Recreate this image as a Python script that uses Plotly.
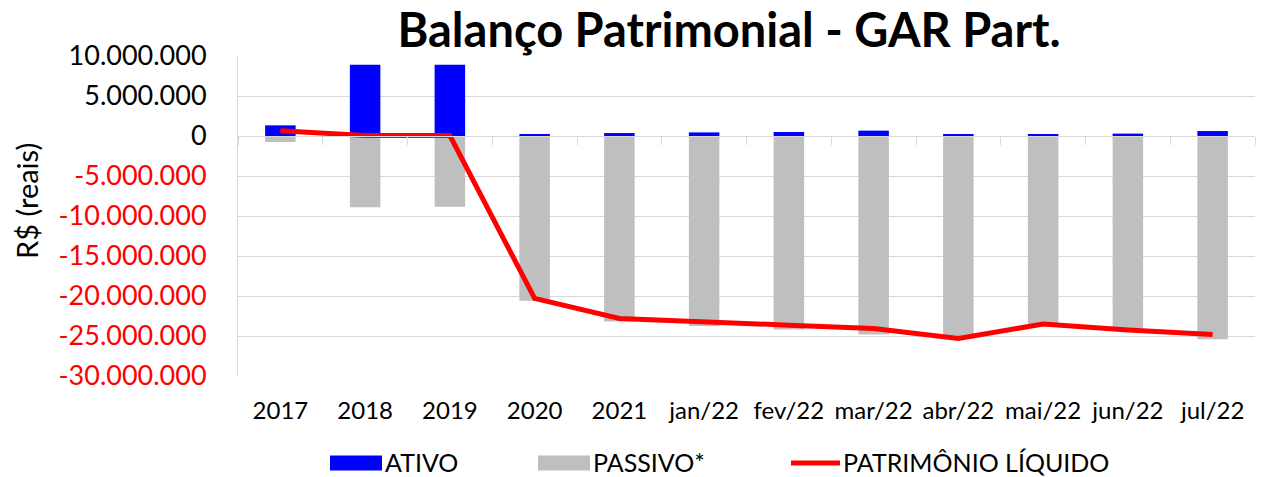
import plotly.graph_objects as go

categories = ["2017", "2018", "2019", "2020", "2021", "jan/22", "fev/22", "mar/22",
              "abr/22", "mai/22", "jun/22", "jul/22"]
ativo = [1330000, 8900000, 8900000, 200000, 370000, 450000, 500000, 670000,
         200000, 200000, 300000, 620000]
passivo = [-750000, -8920000, -8830000, -20580000, -23200000, -23750000, -24200000,
           -24800000, -25300000, -23700000, -24100000, -25400000]
patrimonio = [670000, 50000, 50000, -20300000, -22800000, -23300000, -23650000,
              -24050000, -25300000, -23500000, -24250000, -24800000]

y_tickvals = [10000000, 5000000, 0, -5000000, -10000000, -15000000, -20000000,
              -25000000, -30000000]
y_ticktext = ["10.000.000", "5.000.000", "0", "-5.000.000", "-10.000.000",
              "-15.000.000", "-20.000.000", "-25.000.000", "-30.000.000"]

FONT = "Lato"
GRID = "#d9d9d9"
BLUE = "#0000ff"
GREY = "#bfbfbf"
RED = "#ff0000"

# page body has an 8px default margin: figure placed at (8, 8)
OFF = 8
W, H = 1264 - OFF, 477 - OFF
L, T = 238 - OFF, 56 - OFF
R = W - (1255 - OFF)
B = H - (376 - OFF)
PW, PH = W - L - R, H - T - B


def px(x):
    return (x - OFF - L) / PW


def py(y):
    return (H - B - (y - OFF)) / PH


ticktext_colored = [
    (f"<span style='color:{RED}'>{t}</span>" if v < 0 else t)
    for v, t in zip(y_tickvals, y_ticktext)
]

fig = go.Figure()
fig.add_trace(go.Bar(x=categories, y=ativo, name="ATIVO", marker_color=BLUE,
                     marker_line_width=0, width=0.36))
fig.add_trace(go.Bar(x=categories, y=passivo, name="PASSIVO*", marker_color=GREY,
                     marker_line_width=0, width=0.36))
fig.add_trace(go.Scatter(x=categories, y=patrimonio, name="PATRIMÔNIO LÍQUIDO",
                         mode="lines", line=dict(color=RED, width=5)))
# helper axis for the category axis line at zero
fig.add_trace(go.Scatter(x=[0], y=[0], xaxis="x2", mode="markers", opacity=0,
                         showlegend=False, hoverinfo="skip"))

n = len(categories)

# legend drawn manually (wide Excel-style swatches)
legend_items = [
    ("rect", BLUE, 330, 382, "ATIVO"),
    ("rect", GREY, 538, 590, "PASSIVO*"),
    ("line", RED, 791, 840, "PATRIMÔNIO LÍQUIDO"),
]
shapes = []
annotations = []
ly = 463
for kind, color, x0, x1, label in legend_items:
    if kind == "rect":
        shapes.append(dict(type="rect", xref="paper", yref="paper",
                           x0=px(x0), x1=px(x1), y0=py(ly + 7.5), y1=py(ly - 7.5),
                           fillcolor=color, line=dict(width=0)))
    else:
        shapes.append(dict(type="line", xref="paper", yref="paper",
                           x0=px(x0), x1=px(x1), y0=py(ly), y1=py(ly),
                           line=dict(color=color, width=5)))
    annotations.append(dict(text=label, xref="paper", yref="paper", x=px(x1 + 2),
                            y=py(ly - 1.5), xanchor="left", yanchor="middle",
                            showarrow=False, borderpad=0,
                            font=dict(size=25, family=FONT, color="black")))

# y-axis title (placed like the original, slightly above plot centre)
annotations.append(dict(text="R$ (reais)", xref="paper", yref="paper", x=px(26), y=py(201),
                        xanchor="center", yanchor="middle", textangle=-90, showarrow=False,
                        borderpad=0, font=dict(size=29, family=FONT, color="black")))

fig.update_layout(
    width=W, height=H,
    margin=dict(l=L, r=R, t=T, b=B),
    paper_bgcolor="white", plot_bgcolor="white",
    barmode="relative",
    showlegend=False,
    font=dict(family=FONT, color="black"),
    title=dict(text="<b>Balanço Patrimonial - GAR Part.</b>", font=dict(size=47, family=FONT),
               x=(729 - OFF) / W, xanchor="center", xref="container", yref="container",
               y=1 - (31 - OFF) / H, yanchor="middle"),
    xaxis=dict(type="category", range=[-0.5, n - 0.5], showgrid=False, showline=False,
               ticks="outside", ticklen=13, tickcolor="rgba(0,0,0,0)",
               tickfont=dict(size=24, family=FONT), automargin=False),
    xaxis2=dict(overlaying="x", anchor="free", position=0.75, side="bottom",
                range=[-0.5, n - 0.5], showgrid=False, showline=True, linecolor=GRID,
                linewidth=1, ticks="outside", ticklen=8, tickcolor=GRID,
                tickvals=[i - 0.5 for i in range(n + 1)], showticklabels=False,
                zeroline=False, automargin=False),
    yaxis=dict(range=[-30000000, 10000000], tickvals=y_tickvals, ticktext=ticktext_colored,
               showgrid=True, gridcolor=GRID, gridwidth=1, zeroline=False,
               showline=True, linecolor=GRID, ticks="outside", ticklen=25,
               tickcolor="rgba(0,0,0,0)", tickfont=dict(size=27, family=FONT),
               automargin=False),
    shapes=shapes,
    annotations=annotations,
)

fig.write_html("out.html")
